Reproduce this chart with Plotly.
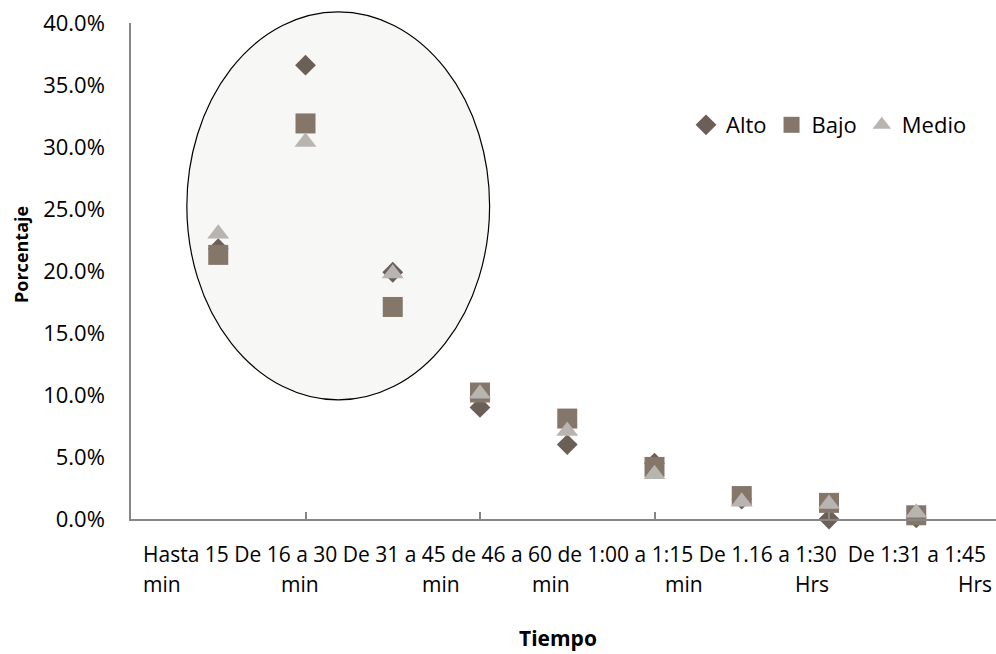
import plotly.graph_objects as go

# Time bins on the horizontal axis (positions 1..9)
positions = [1, 2, 3, 4, 5, 6, 7, 8, 9]

# Share of respondents per time bin, by level
alto = [0.218, 0.366, 0.199, 0.090, 0.060, 0.045, 0.016, 0.000, 0.001]
bajo = [0.213, 0.319, 0.171, 0.102, 0.081, 0.042, 0.0185, 0.013, 0.003]
medio = [0.230, 0.304, 0.198, 0.101, 0.071, 0.036, 0.014, 0.012, 0.005]

# Category captions written under the axis
labels = ["Hasta 15 min", "De 16 a 30 min", "De 31 a 45 min", "de 46 a 60 min",
          "de 1:00 a 1:15 min", "De 1.16 a 1:30 Hrs", "De 1:31 a 1:45 Hrs"]

y_ticks = [0.0, 0.05, 0.10, 0.15, 0.20, 0.25, 0.30, 0.35, 0.40]

# ---- layout geometry ----
W, H = 996, 654
ML, MR, MT, MB = 131, 0, 23, 135
PW, PH = W - ML - MR, H - MT - MB
UNIT = 87.25                      # pixels per position on x
XMAX = PW / UNIT
YMAX = 0.40

# Caption layout: first line runs as one string, last words wrap below
line1_left_px = 141
line2_px = [141, 279, 420, 530, 663, 793, 956]

FONT = "Open Sans"
AXIS_COLOR = "#868686"


def px_to_paper_x(px):
    return (px - ML) / PW


def px_to_paper_y(py):
    return (MT + PH - py) / PH


fig = go.Figure()

series = [
    ("Alto", alto, "diamond", 16, "#6b5f57"),
    ("Bajo", bajo, "square", 20, "#85766a"),
    ("Medio", medio, "triangle-up", 19, "#b8b4b0"),
]
for name, vals, sym, size, col in series:
    fig.add_trace(go.Scatter(
        x=positions, y=vals, mode="markers", name=name,
        marker=dict(symbol=sym, size=size, color=col, line=dict(width=0)),
        cliponaxis=False,
    ))

# Highlight ellipse around the first three bins (data units -> paper)
ell_x = (0.64, 4.11)
ell_y = (0.096, 0.409)
fig.add_shape(
    type="circle", xref="paper", yref="paper",
    x0=ell_x[0] / XMAX, x1=ell_x[1] / XMAX,
    y0=ell_y[0] / YMAX, y1=ell_y[1] / YMAX,
    fillcolor="#f7f7f5", line=dict(color="#000000", width=1.2),
    layer="below",
)

first_parts, last_words = [], []
for text in labels:
    words = text.split()
    first_parts.append(" ".join(words[:-1]))
    last_words.append(words[-1])
line1 = " ".join(first_parts[:-1]) + "\u00a0 " + first_parts[-1]

cap_font = dict(family=FONT, size=21, color="#000000")
annotations = [dict(
    text=line1, x=px_to_paper_x(line1_left_px), y=px_to_paper_y(538),
    xref="paper", yref="paper", xanchor="left", yanchor="top",
    showarrow=False, font=cap_font,
)]
for word, p2 in zip(last_words, line2_px):
    annotations.append(dict(
        text=word, x=px_to_paper_x(p2), y=px_to_paper_y(568),
        xref="paper", yref="paper", xanchor="left", yanchor="top",
        showarrow=False, font=cap_font,
    ))

annotations.append(dict(
    text="<b>Tiempo</b>", x=px_to_paper_x(558), y=px_to_paper_y(622),
    xref="paper", yref="paper", xanchor="center", yanchor="top",
    showarrow=False, font=dict(family=FONT, size=21, color="#000000"),
))
annotations.append(dict(
    text="<b>Porcentaje</b>", x=px_to_paper_x(21), y=px_to_paper_y(255),
    xref="paper", yref="paper", xanchor="center", yanchor="middle",
    textangle=-90, showarrow=False,
    font=dict(family=FONT, size=18, color="#000000"),
))

fig.update_layout(
    width=W, height=H,
    margin=dict(l=ML, r=MR, t=MT, b=MB, pad=0),
    paper_bgcolor="#ffffff", plot_bgcolor="rgba(0,0,0,0)",
    showlegend=True,
    legend=dict(
        orientation="h", x=px_to_paper_x(686), y=px_to_paper_y(104),
        xanchor="left", yanchor="top",
        font=dict(family=FONT, size=22, color="#000000"),
        bgcolor="rgba(0,0,0,0)", itemwidth=30, tracegroupgap=0,
    ),
    annotations=annotations,
    xaxis=dict(
        range=[0, XMAX], showline=True, linecolor=AXIS_COLOR, linewidth=1.5,
        tickvals=[2, 4, 6, 8], ticks="inside", ticklen=7, tickwidth=1.5,
        tickcolor=AXIS_COLOR, showticklabels=False, showgrid=False,
        zeroline=False, fixedrange=True,
    ),
    yaxis=dict(
        range=[0, YMAX], showline=True, linecolor=AXIS_COLOR, linewidth=1.5,
        tickvals=y_ticks, tickformat=".1%", ticks="", showgrid=False,
        zeroline=False, ticklabelstandoff=20,
        tickfont=dict(family=FONT, size=22, color="#000000"),
    ),
)

fig.write_html("out.html")
